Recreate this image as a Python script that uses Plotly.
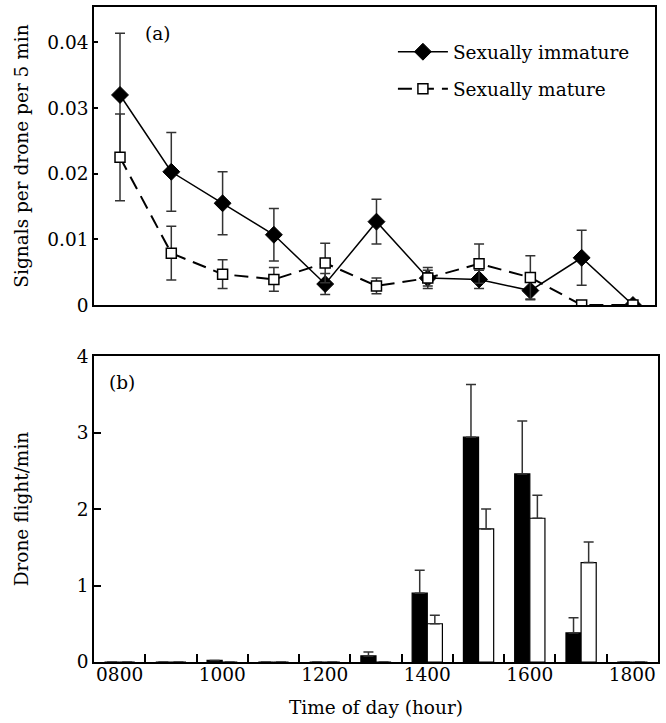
import plotly.graph_objects as go

hours = ["0800", "0900", "1000", "1100", "1200", "1300", "1400", "1500", "1600", "1700", "1800"]
tick_hours = ["0800", "1000", "1200", "1400", "1600", "1800"]

imm_signal = [0.032, 0.0203, 0.0155, 0.0107, 0.0032, 0.0127, 0.0041, 0.0039, 0.0022, 0.0072, 0.0]
imm_signal_se = [0.0094, 0.0060, 0.0048, 0.0040, 0.0016, 0.0034, 0.0016, 0.0014, 0.0014, 0.0042, 0.0]
mat_signal = [0.0225, 0.0079, 0.0047, 0.0039, 0.0064, 0.0029, 0.0041, 0.0063, 0.0042, 0.0, 0.0]
mat_signal_se = [0.0066, 0.0041, 0.0022, 0.0018, 0.0030, 0.0012, 0.0012, 0.0030, 0.0033, 0.0, 0.0]

imm_flight = [0, 0, 0.02, 0, 0, 0.08, 0.90, 2.94, 2.46, 0.38, 0]
imm_flight_se = [0, 0, 0, 0, 0, 0.05, 0.30, 0.69, 0.69, 0.20, 0]
mat_flight = [0, 0, 0, 0, 0, 0, 0.50, 1.74, 1.88, 1.30, 0]
mat_flight_se = [0, 0, 0, 0, 0, 0, 0.11, 0.26, 0.30, 0.27, 0]

x = [int(h) / 100 for h in hours]
FONT = "DejaVu Serif"
FS = 18.5
ERRC = "#333333"

fig = go.Figure()

fig.add_trace(go.Scatter(
    x=x, y=imm_signal, name="Sexually immature", mode="lines+markers",
    line=dict(color="black", width=1.5),
    marker=dict(symbol="diamond", size=13, color="black", line=dict(color="black", width=1)),
    error_y=dict(type="data", array=imm_signal_se, color=ERRC, thickness=1.5, width=5),
    xaxis="x", yaxis="y", legendgroup="a"))
fig.add_trace(go.Scatter(
    x=x, y=mat_signal, name="Sexually mature", mode="lines+markers",
    line=dict(color="black", width=2, dash="14px,8px"),
    marker=dict(symbol="square", size=10, color="white", line=dict(color="black", width=1.5)),
    error_y=dict(type="data", array=mat_signal_se, color=ERRC, thickness=1.5, width=5),
    xaxis="x", yaxis="y", legendgroup="b"))

fig.add_trace(go.Bar(
    x=x, y=imm_flight, name="Sexually immature", showlegend=False,
    marker=dict(color="black", line=dict(color="black", width=1.2)),
    error_y=dict(type="data", symmetric=False, array=imm_flight_se, arrayminus=[0] * len(x),
                 color=ERRC, thickness=1.5, width=5),
    xaxis="x2", yaxis="y2"))
fig.add_trace(go.Bar(
    x=x, y=mat_flight, name="Sexually mature", showlegend=False,
    marker=dict(color="white", line=dict(color="black", width=1.2)),
    error_y=dict(type="data", symmetric=False, array=mat_flight_se, arrayminus=[0] * len(x),
                 color=ERRC, thickness=1.5, width=5),
    xaxis="x2", yaxis="y2"))

axis_common = dict(showline=True, linecolor="black", linewidth=1.5, mirror=True,
                   showgrid=False, zeroline=False, automargin=False,
                   tickfont=dict(family=FONT, size=FS, color="black"))

fig.update_layout(
    width=666, height=723,
    margin=dict(l=94, r=8, t=7, b=61, autoexpand=False),
    paper_bgcolor="white", plot_bgcolor="white",
    font=dict(family=FONT, size=FS, color="black"),
    barmode="group", bargap=0.41, bargroupgap=0,
    showlegend=True,
    legend=dict(x=0.53, y=0.960, xanchor="left", yanchor="top",
                bgcolor="rgba(0,0,0,0)", font=dict(family=FONT, size=FS),
                tracegroupgap=10, traceorder="grouped", itemwidth=50),
    xaxis=dict(axis_common, domain=[0, 0.9947], range=[7.493, 18.43],
               showticklabels=False, ticks="", anchor="y"),
    yaxis=dict(axis_common, domain=[0.545, 1], range=[0, 0.0454],
               tickvals=[0, 0.01, 0.02, 0.03, 0.04], ticktext=["0", "0.01", "0.02", "0.03", "0.04"],
               ticks="inside", ticklen=4, tickwidth=1.5, tickcolor="black", anchor="x",
               title=dict(text="Signals per drone per 5 min", font=dict(family=FONT, size=FS), standoff=14)),
    xaxis2=dict(axis_common, domain=[0, 1], range=[7.5, 18.5], anchor="y2",
                tickvals=[int(h) / 100 for h in tick_hours], ticktext=tick_hours, ticks="",
                ticklabelstandoff=-5,
                minor=dict(tickvals=[v + 0.5 for v in x[:-1]], ticks="inside", ticklen=8,
                           tickwidth=1.5, tickcolor="black", showgrid=False),
                title=dict(text="Time of day (hour)", font=dict(family=FONT, size=FS), standoff=17)),
    yaxis2=dict(axis_common, domain=[0, 0.467], range=[0, 4], anchor="x2",
                tickvals=[0, 1, 2, 3, 4], ticks="inside", ticklen=7, tickwidth=1.5, tickcolor="black",
                title=dict(text="Drone flight/min", font=dict(family=FONT, size=FS), standoff=43)),
    annotations=[
        dict(text="(a)", xref="x domain", yref="y domain", x=0.087, y=0.953,
             xanchor="left", yanchor="top", showarrow=False, font=dict(family=FONT, size=FS)),
        dict(text="(b)", xref="x2 domain", yref="y2 domain", x=0.023, y=0.955,
             xanchor="left", yanchor="top", showarrow=False, font=dict(family=FONT, size=FS)),
    ],
)

fig.write_html("out.html", config={"displayModeBar": False},
               post_script="document.body.style.margin='0';")
